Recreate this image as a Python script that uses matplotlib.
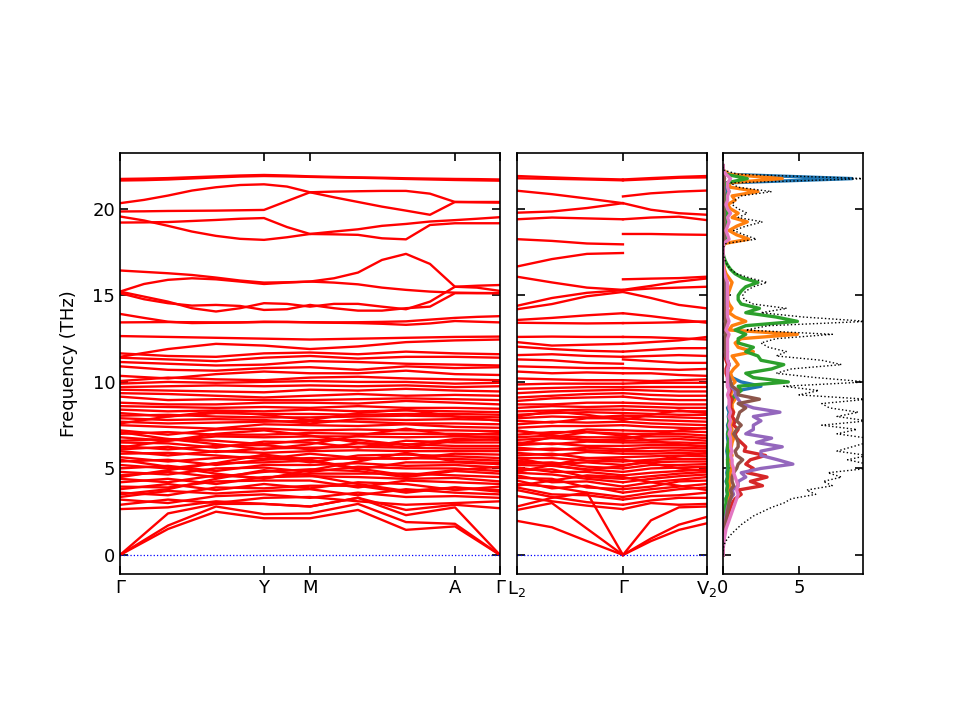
import matplotlib
matplotlib.use("Agg")
import matplotlib.pyplot as plt
import numpy as np

# ---------------- data ----------------
# left panel path: Gamma - Y - M - A - Gamma (k distances)
k_left = [0, 48, 96, 144, 190, 238, 286, 335, 380]
k_left_fine = [0, 24, 48, 72, 96, 120, 144, 167, 190, 214, 238, 262, 286, 310, 335, 357, 380]
left_ticks = [0, 144, 190, 335, 380]
left_labels = ["Γ", "Y", "M", "A", "Γ"]

acoustic_left = [
    [0.0, 1.5, 2.5, 2.12, 2.12, 2.6, 1.45, 1.65, 0.0],
    [0.0, 1.7, 2.8, 2.36, 2.4, 2.95, 1.9, 1.8, 0.0],
    [0.0, 2.4, 2.95, 2.95, 2.8, 3.3, 2.3, 2.75, 0.0],
]

optical_left = [
    [2.65, 2.75, 3.1, 2.95, 2.8, 3.3, 2.6, 2.9, 2.7],
    [2.9, 3.2, 3.0, 3.3, 3.35, 3.1, 2.9, 3.0, 3.1],
    [3.2, 3.0, 3.4, 3.5, 3.3, 3.6, 3.35, 3.4, 3.3],
    [3.35, 3.7, 3.55, 3.7, 3.8, 3.45, 3.8, 3.6, 3.5],
    [3.5, 3.8, 4.4, 4.9, 4.6, 4.1, 3.7, 3.9, 3.65],
    [3.6, 3.45, 3.9, 3.85, 4.0, 4.0, 3.6, 3.9, 3.75],
    [3.8, 4.1, 3.75, 4.1, 3.85, 4.2, 4.1, 3.75, 3.95],
    [3.95, 3.9, 4.25, 4.3, 4.3, 3.9, 4.3, 4.2, 4.1],
    [4.2, 4.4, 4.1, 4.5, 4.55, 4.5, 4.4, 4.45, 4.25],
    [4.4, 4.2, 4.6, 4.45, 4.7, 4.7, 4.7, 4.6, 4.5],
    [4.5, 4.9, 5.3, 5.8, 5.5, 5.0, 4.6, 4.9, 5.1],
    [4.6, 4.8, 4.5, 4.8, 4.95, 4.85, 4.5, 4.85, 4.7],
    [4.8, 4.65, 5.0, 5.05, 4.8, 5.1, 5.0, 5.0, 4.85],
    [5.0, 5.15, 4.85, 5.2, 5.2, 5.3, 5.15, 5.2, 5.05],
    [5.2, 5.0, 5.3, 5.35, 5.45, 4.95, 5.35, 5.35, 5.25],
    [5.4, 5.5, 5.2, 5.5, 5.6, 5.55, 5.6, 5.55, 5.45],
    [5.5, 5.1, 4.7, 4.4, 4.9, 5.4, 5.9, 5.4, 5.3],
    [5.65, 5.4, 5.6, 5.7, 5.35, 5.75, 5.8, 5.7, 5.6],
    [5.85, 5.9, 5.75, 5.55, 5.85, 5.6, 5.55, 5.85, 5.8],
    [6.0, 5.75, 6.0, 5.9, 6.0, 6.05, 6.0, 6.0, 6.0],
    [6.1, 6.25, 5.95, 6.15, 6.2, 6.25, 6.2, 6.15, 6.15],
    [6.2, 6.6, 7.0, 7.2, 6.9, 6.5, 6.2, 6.6, 6.7],
    [6.3, 6.1, 6.3, 6.35, 6.1, 6.45, 6.4, 6.3, 6.3],
    [6.5, 6.45, 6.2, 6.55, 6.5, 6.2, 6.6, 6.5, 6.5],
    [6.6, 6.7, 6.6, 6.4, 6.65, 6.65, 6.35, 6.7, 6.65],
    [6.8, 6.6, 6.85, 6.8, 6.85, 6.85, 6.8, 6.85, 6.8],
    [7.0, 7.1, 6.95, 6.95, 7.05, 7.0, 7.0, 7.0, 6.95],
    [7.1, 6.7, 6.4, 6.1, 6.4, 6.9, 7.3, 6.9, 7.05],
    [7.2, 6.95, 7.25, 7.3, 7.2, 7.25, 7.2, 7.2, 7.15],
    [7.5, 7.4, 7.3, 7.55, 7.5, 7.45, 7.55, 7.4, 7.35],
    [7.6, 8.0, 8.3, 8.1, 7.8, 8.2, 8.4, 8.0, 7.75],
    [7.7, 7.6, 7.65, 7.7, 7.75, 7.7, 7.6, 7.6, 7.55],
    [7.9, 7.8, 7.85, 7.8, 7.6, 7.85, 7.8, 7.85, 7.8],
    [8.05, 8.1, 8.0, 7.95, 7.95, 8.0, 8.05, 8.0, 7.95],
    [8.2, 8.0, 8.2, 8.15, 8.15, 8.1, 8.15, 8.15, 8.1],
    [8.4, 8.3, 8.35, 8.3, 8.4, 8.3, 8.35, 8.3, 8.25],
    [8.6, 8.55, 8.5, 8.55, 8.5, 8.6, 8.5, 8.5, 8.45],
    [8.8, 8.7, 8.7, 8.8, 8.8, 8.75, 8.9, 8.8, 8.7],
    [9.15, 8.95, 9.0, 8.95, 8.95, 9.0, 9.05, 9.0, 8.95],
    [9.35, 9.3, 9.2, 9.1, 9.2, 9.3, 9.2, 9.25, 9.2],
    [9.55, 9.5, 9.45, 9.4, 9.55, 9.5, 9.6, 9.5, 9.45],
    [9.7, 9.75, 9.8, 9.75, 9.8, 9.75, 9.8, 9.7, 9.75],
    [9.9, 10.0, 9.95, 10.0, 10.05, 10.0, 10.0, 9.9, 9.95],
]

middle_left = [
    [10.05, 10.25, 10.15, 10.1, 10.25, 10.3, 10.2, 10.15, 10.1],
    [10.35, 10.2, 10.45, 10.6, 10.5, 10.5, 10.65, 10.45, 10.4],
    [10.9, 10.7, 10.65, 10.8, 10.85, 10.7, 10.9, 10.8, 10.85],
    [11.15, 11.05, 10.95, 11.0, 11.2, 11.15, 11.05, 11.0, 10.95],
    [11.4, 11.3, 11.2, 11.4, 11.5, 11.35, 11.45, 11.45, 11.4],
    [11.65, 11.5, 11.45, 11.65, 11.7, 11.6, 11.75, 11.65, 11.6],
    [11.45, 11.9, 12.2, 12.1, 11.9, 12.05, 12.3, 12.4, 12.45],
    [12.65, 12.6, 12.55, 12.5, 12.45, 12.5, 12.55, 12.6, 12.62],
]

# bands above 13 THz on the finer k grid
upper_left = [
    [13.44, 13.45, 13.46, 13.45, 13.44, 13.44, 13.48, 13.47, 13.44, 13.42, 13.4, 13.36, 13.3, 13.38, 13.52, 13.48, 13.44],
    [13.93, 13.7, 13.48, 13.4, 13.42, 13.44, 13.46, 13.46, 13.45, 13.44, 13.45, 13.47, 13.5, 13.6, 13.7, 13.76, 13.8],
    [15.13, 14.78, 14.55, 14.41, 14.45, 14.39, 14.16, 14.2, 14.45, 14.26, 14.12, 14.12, 14.26, 14.35, 15.13, 15.13, 15.13],
    [15.22, 14.93, 14.64, 14.26, 14.07, 14.26, 14.55, 14.51, 14.35, 14.51, 14.51, 14.35, 14.2, 14.64, 15.5, 15.45, 15.26],
    [15.22, 15.66, 15.9, 15.99, 15.93, 15.8, 15.66, 15.74, 15.8, 15.74, 15.64, 15.45, 15.32, 15.22, 15.16, 15.14, 15.13],
    [16.44, 16.36, 16.28, 16.18, 16.03, 15.86, 15.74, 15.76, 15.8, 15.99, 16.32, 17.05, 17.4, 16.82, 15.5, 15.56, 15.6],
    [19.21, 19.22, 19.24, 19.3, 19.36, 19.43, 19.47, 18.95, 18.55, 18.69, 18.82, 19.02, 19.13, 19.27, 19.35, 19.43, 19.52],
    [19.56, 19.33, 19.02, 18.69, 18.44, 18.27, 18.21, 18.36, 18.55, 18.53, 18.5, 18.3, 18.24, 19.07, 19.17, 19.17, 19.17],
    [19.85, 19.86, 19.88, 19.89, 19.9, 19.92, 19.94, 20.45, 20.96, 21.0, 21.02, 21.04, 21.04, 20.88, 20.4, 20.4, 20.4],
    [20.33, 20.52, 20.77, 21.06, 21.25, 21.38, 21.42, 21.29, 20.96, 20.67, 20.4, 20.13, 19.9, 19.66, 20.4, 20.38, 20.36],
    [21.64, 21.66, 21.7, 21.76, 21.82, 21.87, 21.9, 21.88, 21.85, 21.82, 21.8, 21.77, 21.73, 21.7, 21.67, 21.65, 21.63],
    [21.73, 21.75, 21.78, 21.83, 21.88, 21.93, 21.96, 21.93, 21.88, 21.85, 21.82, 21.8, 21.77, 21.75, 21.73, 21.72, 21.7],
]

# middle panel: L2 - Gamma and Gamma - V2
k_mid1 = [0, 35, 70, 106]
k_mid2 = [106, 134, 162, 190]
mid_ticks = [0, 106, 190]
mid_labels = ["L$_2$", "Γ", "V$_2$"]

acoustic_mid1 = [
    [1.97, 1.6, 0.8, 0.0],
    [2.6, 3.0, 1.52, 0.0],
    [2.8, 3.3, 3.6, 0.0],
]
acoustic_mid2 = [
    [0.0, 0.8, 1.45, 1.83],
    [0.0, 0.95, 1.75, 2.2],
    [0.0, 2.0, 2.75, 2.8],
]

optical_mid1 = [
    [3.4, 3.1, 2.85, 2.65],
    [3.75, 3.35, 3.05, 2.9],
    [3.9, 3.5, 3.45, 3.2],
    [4.0, 4.3, 4.6, 4.5],
    [4.1, 3.95, 3.6, 3.35],
    [4.3, 3.85, 4.0, 3.6],
    [4.45, 4.4, 3.9, 3.8],
    [4.6, 4.2, 4.25, 3.95],
    [4.75, 4.65, 4.4, 4.2],
    [4.8, 5.2, 5.6, 5.5],
    [4.9, 4.95, 4.5, 4.4],
    [5.05, 4.8, 4.8, 4.6],
    [5.2, 5.15, 4.95, 4.8],
    [5.3, 5.35, 5.1, 5.0],
    [5.45, 5.25, 5.35, 5.2],
    [5.6, 5.2, 4.9, 5.15],
    [5.6, 5.6, 5.45, 5.4],
    [5.75, 5.85, 5.6, 5.65],
    [5.9, 5.75, 5.95, 5.85],
    [6.05, 6.15, 6.05, 6.0],
    [6.2, 6.05, 6.2, 6.1],
    [6.35, 6.45, 6.3, 6.3],
    [6.4, 6.8, 7.1, 6.9],
    [6.5, 6.4, 6.55, 6.5],
    [6.65, 6.75, 6.65, 6.6],
    [6.8, 6.9, 6.8, 6.8],
    [6.95, 7.1, 7.1, 7.0],
    [7.15, 7.0, 7.25, 7.2],
    [7.2, 6.9, 6.6, 6.7],
    [7.35, 7.45, 7.45, 7.5],
    [7.55, 7.7, 7.65, 7.7],
    [7.75, 7.65, 7.9, 7.9],
    [7.9, 8.0, 7.95, 8.05],
    [8.0, 8.3, 8.1, 7.8],
    [8.1, 8.2, 8.25, 8.2],
    [8.3, 8.35, 8.4, 8.4],
    [8.5, 8.6, 8.55, 8.6],
    [8.7, 8.7, 8.8, 8.8],
    [8.9, 9.05, 9.1, 9.15],
    [9.1, 9.2, 9.3, 9.35],
    [9.35, 9.45, 9.5, 9.55],
    [9.6, 9.65, 9.7, 9.7],
    [9.85, 9.9, 9.9, 9.9],
]
optical_mid2 = [
    [2.65, 3.0, 2.9, 2.95],
    [2.9, 3.15, 3.3, 3.3],
    [3.2, 3.4, 3.45, 3.6],
    [3.35, 3.6, 3.8, 3.9],
    [4.5, 4.2, 4.0, 3.75],
    [3.6, 3.8, 3.95, 4.1],
    [3.8, 3.95, 4.25, 4.3],
    [3.95, 4.2, 4.35, 4.5],
    [4.2, 4.4, 4.55, 4.65],
    [5.5, 5.3, 5.0, 4.85],
    [4.4, 4.55, 4.7, 4.8],
    [4.6, 4.75, 4.85, 4.95],
    [4.8, 5.0, 5.05, 5.1],
    [5.0, 5.2, 5.2, 5.25],
    [5.15, 5.45, 5.7, 5.9],
    [5.2, 5.35, 5.4, 5.4],
    [5.4, 5.5, 5.55, 5.55],
    [5.65, 5.7, 5.75, 5.7],
    [5.85, 5.85, 5.9, 5.85],
    [6.0, 6.0, 6.05, 6.0],
    [6.1, 6.2, 6.2, 6.15],
    [6.3, 6.35, 6.35, 6.3],
    [6.9, 6.6, 6.4, 6.25],
    [6.5, 6.5, 6.5, 6.45],
    [6.6, 6.65, 6.7, 6.6],
    [6.8, 6.85, 6.85, 6.75],
    [7.0, 7.0, 7.0, 6.9],
    [7.2, 7.15, 7.15, 7.1],
    [6.7, 6.95, 7.2, 7.35],
    [7.5, 7.4, 7.35, 7.3],
    [7.7, 7.6, 7.55, 7.5],
    [7.9, 7.8, 7.75, 7.7],
    [8.05, 8.0, 7.95, 7.9],
    [7.8, 8.1, 8.35, 8.2],
    [8.2, 8.15, 8.1, 8.1],
    [8.4, 8.35, 8.3, 8.3],
    [8.6, 8.55, 8.5, 8.5],
    [8.8, 8.75, 8.7, 8.7],
    [9.15, 9.0, 8.95, 8.95],
    [9.35, 9.25, 9.2, 9.2],
    [9.55, 9.5, 9.45, 9.45],
    [9.7, 9.7, 9.7, 9.7],
    [9.9, 9.95, 9.95, 9.95],
]

upper_mid1 = [
    [10.2, 10.15, 10.1, 10.1],
    [10.6, 10.5, 10.55, 10.5],
    [10.9, 10.85, 10.8, 10.8],
    [11.3, 11.25, 11.1, 11.05],
    [11.55, 11.6, 11.5, 11.45],
    [12.04, 11.9, 11.8, 11.75],
    [12.3, 12.1, 12.15, 12.2],
    [12.6, 12.62, 12.6, 12.6],
    [13.42, 13.4, 13.38, 13.4],
    [13.58, 13.7, 13.85, 13.97],
    [14.2, 14.5, 14.95, 15.2],
    [14.4, 14.85, 15.15, 15.3],
    [16.08, 15.75, 15.45, 15.32],
    [16.67, 17.1, 17.4, 17.45],
    [18.25, 18.15, 18.0, 17.95],
    [19.4, 19.5, 19.45, 19.4],
    [19.78, 19.85, 20.05, 20.33],
    [21.05, 20.85, 20.6, 20.33],
    [21.77, 21.74, 21.7, 21.65],
    [21.9, 21.82, 21.75, 21.7],
]
upper_mid2 = [
    [10.1, 10.05, 10.1, 10.15],
    [10.5, 10.5, 10.4, 10.35],
    [10.8, 10.75, 10.7, 10.75],
    [11.3, 11.2, 11.1, 11.1],
    [11.45, 11.5, 11.55, 11.5],
    [11.75, 11.85, 11.95, 11.95],
    [12.2, 12.3, 12.4, 12.6],
    [12.6, 12.58, 12.52, 12.45],
    [13.4, 13.42, 13.45, 13.5],
    [13.97, 13.8, 13.6, 13.42],
    [15.2, 14.85, 14.45, 14.25],
    [15.3, 15.4, 15.45, 15.5],
    [15.32, 15.55, 15.8, 15.98],
    [15.93, 15.97, 16.0, 16.08],
    [18.55, 18.55, 18.52, 18.5],
    [19.4, 19.5, 19.55, 19.35],
    [20.33, 19.95, 19.75, 19.66],
    [20.72, 20.9, 21.0, 21.06],
    [21.65, 21.72, 21.8, 21.82],
    [21.7, 21.78, 21.85, 21.9],
]

# DOS (frequency grid in THz, step 0.25)
dos_freq = [i * 0.25 for i in range(91)]
dos_total = [
    0, 0.02, 0.05, 0.15, 0.35, 0.6, 0.9, 1.2, 1.6, 2.0,
    2.6, 3.2, 4.0, 4.5, 6.1, 5.5, 7.2, 6.6, 7.8, 6.9,
    9.5, 9.5, 8.2, 9.5, 7.5, 8.5, 9.5, 9.5, 7.5, 8.8,
    6.5, 9.5, 7.5, 8.9, 7.0, 6.5, 9.5, 5.0, 6.3, 4.0,
    9.5, 6.1, 3.5, 4.5, 7.8, 6.5, 3.5, 4.2, 3.0, 2.5,
    3.5, 7.2, 1.5, 3.0, 9.5, 5.3, 2.5, 4.2, 2.0, 1.4,
    1.3, 1.5, 2.0, 2.9, 1.8, 0.9, 0.5, 0.3, 0.15, 0.05,
    0, 0, 0.2, 2.2, 1.4, 0.7, 1.5, 2.6, 1.0, 1.6,
    1.0, 0.6, 0.8, 1.2, 3.2, 1.0, 0.5, 9.5, 1.0, 0, 0,
]
pdos_blue = [
    0, 0, 0.01, 0.02, 0.05, 0.08, 0.1, 0.12, 0.15, 0.15,
    0.2, 0.2, 0.25, 0.2, 0.3, 0.25, 0.3, 0.2, 0.3, 0.25,
    0.3, 0.35, 0.3, 0.3, 0.25, 0.3, 0.35, 0.3, 0.3, 0.35,
    0.3, 0.4, 0.35, 0.4, 0.3, 0.5, 0.6, 0.8, 1.0, 2.5,
    1.2, 0.6, 0.3, 0.3, 0.4, 0.3, 0.2, 0.3, 0.2, 0.2,
    0.2, 0.3, 0.1, 0.2, 0.3, 0.2, 0.1, 0.15, 0.1, 0.1,
    0.1, 0.1, 0.15, 0.1, 0.1, 0.05, 0.03, 0.02, 0.01, 0,
    0, 0, 0.02, 0.2, 0.15, 0.1, 0.2, 0.3, 0.2, 0.2,
    0.15, 0.1, 0.1, 0.15, 0.3, 0.2, 0.1, 8.5, 0.3, 0, 0,
]
pdos_orange = [
    0, 0, 0, 0.01, 0.02, 0.04, 0.06, 0.08, 0.1, 0.12,
    0.15, 0.2, 0.25, 0.3, 0.4, 0.35, 0.45, 0.4, 0.5, 0.45,
    0.6, 0.55, 0.5, 0.6, 0.5, 0.55, 0.6, 0.7, 0.5, 0.6,
    0.5, 0.7, 0.6, 0.7, 0.6, 0.6, 0.8, 0.5, 0.6, 0.5,
    0.8, 0.6, 0.5, 0.7, 1.0, 0.8, 0.6, 2.0, 1.0, 0.8,
    1.2, 4.9, 0.4, 0.6, 1.5, 0.8, 0.4, 0.6, 0.4, 0.3,
    0.3, 0.4, 0.5, 0.6, 0.4, 0.2, 0.1, 0.05, 0.02, 0,
    0, 0, 0.1, 1.7, 0.9, 0.4, 0.9, 1.6, 0.6, 1.0,
    0.5, 0.3, 0.8, 0.6, 2.3, 0.5, 0.3, 3.9, 0.4, 0, 0,
]
pdos_green = [
    0, 0, 0, 0.01, 0.02, 0.03, 0.05, 0.07, 0.1, 0.1,
    0.15, 0.15, 0.2, 0.2, 0.3, 0.25, 0.3, 0.25, 0.3, 0.3,
    0.35, 0.3, 0.3, 0.35, 0.3, 0.3, 0.35, 0.4, 0.3, 0.4,
    0.35, 0.4, 0.4, 0.5, 0.4, 0.5, 0.6, 0.8, 1.2, 1.0,
    4.3, 2.0, 1.5, 3.2, 4.0, 2.5, 2.3, 1.5, 2.0, 1.0,
    1.0, 1.5, 0.8, 1.5, 4.9, 3.5, 1.5, 2.4, 1.2, 1.0,
    1.0, 1.2, 1.5, 2.3, 1.3, 0.8, 0.5, 0.3, 0.15, 0.05,
    0, 0, 0.05, 0.3, 0.2, 0.1, 0.2, 0.3, 0.2, 0.3,
    0.2, 0.1, 0.15, 0.2, 0.4, 0.3, 0.2, 1.6, 0.2, 0, 0,
]
pdos_red = [
    0, 0, 0.01, 0.03, 0.05, 0.08, 0.12, 0.18, 0.25, 0.3,
    0.4, 0.5, 0.6, 0.8, 1.2, 1.0, 2.6, 1.8, 2.9, 1.6,
    2.0, 1.5, 1.8, 2.8, 1.4, 1.5, 1.2, 0.9, 0.8, 1.0,
    0.7, 0.8, 0.6, 0.7, 0.5, 0.5, 0.6, 0.4, 0.5, 0.3,
    0.3, 0.3, 0.2, 0.2, 0.3, 0.2, 0.1, 0.15, 0.1, 0.1,
    0.1, 0.2, 0.05, 0.1, 0.2, 0.1, 0.05, 0.1, 0.05, 0.05,
    0.05, 0.05, 0.05, 0.05, 0.05, 0.02, 0.01, 0, 0, 0,
    0, 0, 0, 0.05, 0.05, 0.02, 0.05, 0.05, 0.03, 0.05,
    0.03, 0.02, 0.03, 0.03, 0.05, 0.03, 0.02, 0.1, 0.02, 0, 0,
]
pdos_purple = [
    0, 0, 0.01, 0.02, 0.03, 0.05, 0.08, 0.1, 0.15, 0.2,
    0.25, 0.3, 0.4, 0.5, 0.7, 0.6, 1.0, 1.0, 1.5, 1.2,
    2.5, 4.6, 3.6, 2.5, 2.5, 3.9, 2.2, 3.2, 1.5, 2.0,
    2.0, 2.5, 2.0, 3.75, 2.0, 1.2, 1.0, 0.8, 0.8, 0.5,
    0.5, 0.4, 0.3, 0.3, 0.4, 0.3, 0.2, 0.2, 0.15, 0.1,
    0.1, 0.2, 0.05, 0.1, 0.2, 0.1, 0.05, 0.1, 0.05, 0.05,
    0.05, 0.05, 0.05, 0.05, 0.05, 0.02, 0.01, 0, 0, 0,
    0, 0, 0, 0.05, 0.05, 0.02, 0.05, 0.05, 0.03, 0.05,
    0.03, 0.02, 0.03, 0.03, 0.05, 0.03, 0.02, 0.1, 0.02, 0, 0,
]
pdos_brown = [
    0, 0, 0.01, 0.02, 0.04, 0.06, 0.1, 0.15, 0.2, 0.25,
    0.3, 0.35, 0.4, 0.5, 0.6, 0.5, 0.7, 0.6, 0.6, 0.7,
    0.9, 1.0, 1.3, 0.9, 0.8, 1.0, 1.0, 0.9, 0.7, 0.9,
    1.2, 0.9, 1.0, 1.1, 1.5, 1.0, 2.4, 1.0, 1.0, 0.6,
    0.5, 0.4, 0.3, 0.3, 0.4, 0.3, 0.2, 0.2, 0.15, 0.1,
    0.1, 0.2, 0.05, 0.1, 0.2, 0.1, 0.05, 0.1, 0.05, 0.05,
    0.05, 0.05, 0.05, 0.05, 0.05, 0.02, 0.01, 0, 0, 0,
    0, 0, 0, 0.05, 0.05, 0.02, 0.05, 0.05, 0.03, 0.05,
    0.03, 0.02, 0.03, 0.03, 0.05, 0.03, 0.02, 0.1, 0.02, 0, 0,
]
pdos_pink = [
    0, 0.01, 0.03, 0.06, 0.1, 0.15, 0.2, 0.3, 0.4, 0.5,
    0.6, 0.7, 0.8, 0.9, 1.0, 0.9, 1.0, 0.9, 0.8, 0.7,
    0.7, 0.6, 0.6, 0.5, 0.6, 0.5, 0.5, 0.5, 0.4, 0.5,
    0.4, 0.5, 0.4, 0.5, 0.4, 0.4, 0.4, 0.3, 0.4, 0.3,
    0.3, 0.3, 0.3, 0.3, 0.4, 0.3, 0.3, 0.3, 0.3, 0.3,
    0.3, 0.4, 0.2, 0.3, 0.4, 0.3, 0.3, 0.3, 0.3, 0.3,
    0.3, 0.3, 0.3, 0.3, 0.2, 0.1, 0.05, 0.02, 0, 0,
    0, 0, 0.05, 0.4, 0.3, 0.2, 0.3, 0.4, 0.3, 0.5,
    0.3, 0.2, 0.3, 0.3, 0.4, 0.3, 0.3, 0.5, 0.2, 0, 0,
]

# ---------------- plotting ----------------
plt.rcParams['font.family'] = ['DejaVu Sans']
plt.rcParams['font.size'] = 13

fig = plt.figure(figsize=(9.6, 7.2), dpi=100)
ylim = (-1.1, 23.23)
y_ticks = [0, 5, 10, 15, 20]

ax1 = fig.add_axes([0.125, 0.2028, 0.3958, 0.5847])
ax2 = fig.add_axes([0.5385, 0.2028, 0.1979, 0.5847])
ax3 = fig.add_axes([0.7531, 0.2028, 0.1458, 0.5847])

band_kw = dict(color='red', lw=1.7, solid_joinstyle='round')

for band in acoustic_left + optical_left + middle_left:
    ax1.plot(k_left, band, **band_kw)
for band in upper_left:
    ax1.plot(k_left_fine, band, **band_kw)
for band in acoustic_mid1 + optical_mid1 + upper_mid1:
    ax2.plot(k_mid1, band, **band_kw)
for band in acoustic_mid2 + optical_mid2 + upper_mid2:
    ax2.plot(k_mid2, band, **band_kw)

for ax, kmax in ((ax1, k_left[-1]), (ax2, k_mid2[-1])):
    ax.plot([0, kmax], [0, 0], color='blue', ls=':', lw=0.9)
    ax.set_xlim(0, kmax)
    ax.set_ylim(*ylim)
    ax.set_yticks(y_ticks)

ax1.set_xticks(left_ticks)
ax1.set_xticklabels(left_labels)
ax2.set_xticks(mid_ticks)
ax2.set_xticklabels(mid_labels)
ax2.set_yticklabels([])
ax1.set_ylabel("Frequency (THz)", labelpad=10)

pdos_colors = ['#1f77b4', '#ff7f0e', '#2ca02c', '#d62728', '#9467bd', '#8c564b', '#e377c2']
pdos_all = [pdos_blue, pdos_orange, pdos_green, pdos_red, pdos_purple, pdos_brown, pdos_pink]
for vals, c in zip(pdos_all, pdos_colors):
    ax3.plot(vals, dos_freq, color=c, lw=2.4)
ax3.plot(dos_total, dos_freq, color='black', ls=':', lw=1.0)
ax3.set_xlim(0, 9.21)
ax3.set_ylim(*ylim)
ax3.set_xticks([0, 5])
ax3.set_yticks(y_ticks)
ax3.set_yticklabels([])

for ax in (ax1, ax2, ax3):
    ax.tick_params(direction='in', top=True, right=True, length=6, width=1.2)
    for s in ax.spines.values():
        s.set_linewidth(1.2)

fig.savefig("out.png", dpi=100)
